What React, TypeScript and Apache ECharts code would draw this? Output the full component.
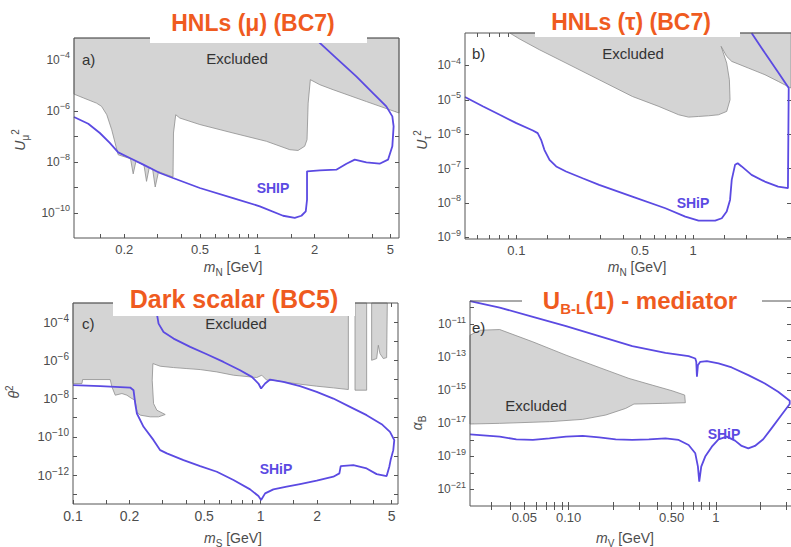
import React, { useEffect, useRef } from "react";
import * as echarts from "echarts";

type Pt = [number, number];

const FONT = '"Liberation Sans", Arial, Helvetica, sans-serif';
const PURPLE = "#5b4ae2";
const ORANGE = "#ef5b1f";
const GRAY_FILL = "#d4d4d4";
const GRAY_EDGE = "#8e8e8e";
const INK = "#4d4d4d";

// ---------- a) HNLs, muon mixing (BC7) ----------
const hnlMuExcluded: Pt[] = [
  [0.109, 7e-4], [0.109, 4.5e-6], [0.122, 3.2e-6], [0.143, 2.0e-6], [0.152, 1.5e-6],
  [0.162, 7.0e-7], [0.172, 1.8e-7], [0.181, 4.1e-8], [0.186, 1.9e-8], [0.21, 1.42e-8],
  [0.216, 1.29e-8], [0.223, 3.4e-9], [0.2305, 1.05e-8], [0.254, 7.5e-9], [0.262, 1.73e-9],
  [0.271, 6.1e-9], [0.282, 5.26e-9], [0.291, 1.04e-9], [0.303, 4.13e-9], [0.361, 2.56e-9],
  [0.363, 1.35e-7], [0.373, 7.0e-7], [0.392, 5.2e-7], [0.499, 2.9e-7], [0.746, 1.35e-7],
  [1.117, 6.4e-8], [1.482, 3.0e-8], [1.637, 2.8e-8], [1.775, 4.1e-8], [1.825, 7.4e-8],
  [1.85, 2.0e-6], [1.9, 1.65e-5], [2.13, 1.05e-5], [2.5, 6.7e-6], [3.74, 2.3e-6],
  [5.55, 8.2e-7], [5.55, 7e-4],
];
const hnlMuShip: Pt[] = [
  [0.109, 5.7e-7], [0.1295, 3.1e-7], [0.149, 1.35e-7], [0.168, 5.5e-8], [0.186, 2.36e-8],
  [0.214, 1.42e-8], [0.252, 7.8e-9], [0.308, 3.67e-9], [0.361, 2.34e-9], [0.499, 9.5e-10],
  [0.746, 3.85e-10], [1.031, 1.82e-10], [1.366, 7.8e-11], [1.573, 6.4e-11], [1.705, 7.8e-11],
  [1.797, 1.16e-10], [1.825, 3.3e-10], [1.825, 4.27e-9], [2.13, 4.67e-9], [2.6, 4.95e-9],
  [2.94, 8.5e-9], [3.25, 1.22e-8], [3.74, 9.6e-9], [4.39, 8.5e-9], [4.86, 1.22e-8],
  [5.12, 4.06e-8], [5.2, 2.46e-7], [5.12, 6.05e-7], [4.76, 1.49e-6], [4.05, 4.96e-6],
  [3.31, 2.23e-5], [2.6, 1.16e-4], [2.0, 7e-4],
];
const muMassTicks = [0.15, 0.2, 0.3, 0.4, 0.5, 0.6, 0.7, 0.8, 0.9, 1, 1.5, 2, 3, 4, 5];
const muMassLabels = [0.2, 0.5, 1, 2, 5];
const muMassText = ["0.2", "0.5", "1", "2", "5"];
const muMixTicks = [1e-4, 1e-5, 1e-6, 1e-7, 1e-8, 1e-9, 1e-10];
const muMixLabels = [1e-4, 1e-6, 1e-8, 1e-10];

// ---------- b) HNLs, tau mixing (BC7) ----------
const hnlTauExcluded: Pt[] = [
  [0.0917, 8.8e-4], [0.1044, 5.86e-4], [0.135, 2.86e-4], [0.191, 1.17e-4], [0.294, 3.83e-5],
  [0.453, 1.25e-5], [0.64, 6.4e-6], [0.829, 3.66e-6], [0.943, 3.13e-6], [1.074, 3.27e-6],
  [1.222, 3.42e-6], [1.391, 3.66e-6], [1.549, 4.58e-6], [1.618, 1.0e-5], [1.604, 3.83e-5],
  [1.549, 1.17e-4], [1.44, 3.59e-4], [1.549, 1.83e-4], [1.654, 1.31e-4], [2.05, 8.4e-5],
  [2.55, 5.36e-5], [3.03, 3.43e-5], [3.49, 2.34e-5], [3.6, 2.2e-5], [3.6, 8.8e-4],
];
const hnlTauShip: Pt[] = [
  [0.0512, 1.2e-5], [0.0649, 6.4e-6], [0.0805, 3.66e-6], [0.1, 2.09e-6], [0.124, 1.28e-6],
  [0.132, 1.07e-6], [0.138, 6.84e-7], [0.144, 3.5e-7], [0.154, 1.79e-7], [0.168, 1.15e-7],
  [0.191, 8.2e-8], [0.237, 5.22e-8], [0.294, 3.34e-8], [0.453, 1.53e-8], [0.697, 6.98e-9],
  [0.903, 3.99e-9], [1.074, 3.05e-9], [1.333, 3.05e-9], [1.453, 3.57e-9], [1.549, 5.59e-9],
  [1.618, 1.22e-8], [1.654, 4.68e-8], [1.727, 1.28e-7], [1.787, 1.43e-7], [1.883, 1.15e-7],
  [2.142, 6.53e-8], [2.545, 4.18e-8], [3.027, 2.99e-8], [3.44, 2.67e-8], [3.475, 2.19e-5],
  [3.027, 6.3e-5], [2.545, 2.34e-4], [2.142, 8.8e-4],
];
const tauMassTicks = [0.06, 0.07, 0.08, 0.09, 0.1, 0.15, 0.2, 0.3, 0.4, 0.5, 0.6, 0.7, 0.8, 0.9, 1, 1.5, 2, 3];
const tauMassLabels = [0.1, 0.5, 1];
const tauMassText = ["0.1", "0.5", "1"];
const tauMixTicks = [1e-4, 1e-5, 1e-6, 1e-7, 1e-8, 1e-9];
const tauMixLabels = [1e-4, 1e-5, 1e-6, 1e-7, 1e-8, 1e-9];

// ---------- c) Dark scalar (BC5) ----------
const scalarExcluded: Pt[] = [
  [0.1, 1e-3], [0.1, 6.1e-8], [0.1116, 6.1e-8], [0.1125, 9.86e-8], [0.1579, 9.86e-8],
  [0.1612, 4.09e-8], [0.168, 1.5e-8], [0.1823, 1.83e-8], [0.1938, 1.5e-8], [0.206, 1.0e-8],
  [0.2146, 8.2e-9], [0.2191, 2.03e-9], [0.2282, 1.36e-9], [0.2579, 1.11e-9], [0.2858, 1.11e-9],
  [0.3101, 1.47e-9], [0.2799, 2.47e-9], [0.2688, 5.5e-9], [0.2644, 9.1e-8], [0.2666, 6.73e-7],
  [0.2917, 4.89e-7], [0.3435, 4.17e-7], [0.4045, 3.69e-7], [0.4763, 3.27e-7], [0.5844, 2.47e-7],
  [0.7166, 1.66e-7], [0.8793, 1.36e-7], [0.9541, 1.25e-7], [1.0144, 1.66e-7], [1.0785, 9.1e-8],
  [1.17, 9.1e-8], [1.323, 7.45e-8], [1.623, 5.63e-8], [1.991, 4.43e-8], [2.442, 3.62e-8],
  [2.936, 2.96e-8], [2.936, 1e-3],
];
const scalarStripA: Pt[] = [[3.186, 1e-3], [3.186, 2.74e-8], [3.675, 2.74e-8], [3.675, 1e-3]];
const scalarStripB: Pt[] = [
  [3.907, 1e-3], [3.907, 1.0e-6], [4.155, 1.23e-6], [4.241, 6.09e-6], [4.328, 2.24e-6],
  [4.51, 1.23e-6], [4.698, 1.38e-6], [4.736, 1e-3],
];
const scalarShip: Pt[] = [
  [0.1, 4.99e-8], [0.1398, 4.43e-8], [0.2018, 3.77e-8], [0.2102, 2.74e-8], [0.2146, 5.5e-9],
  [0.2191, 1.66e-9], [0.2377, 3.34e-10], [0.2688, 6.73e-11], [0.2917, 2.02e-11], [0.3164, 1.36e-11],
  [0.3882, 6.1e-12], [0.4763, 2.96e-12], [0.5844, 1.5e-12], [0.7166, 5.52e-13], [0.8793, 1.8e-13],
  [0.9738, 8.08e-14], [1.006, 5.0e-14], [1.057, 1.11e-13], [1.17, 1.8e-13], [1.378, 2.48e-13],
  [1.623, 3.42e-13], [1.991, 5.1e-13], [2.442, 8.26e-13], [2.63, 1.23e-12], [2.673, 2.96e-12],
  [3.121, 3.34e-12], [3.675, 2.24e-12], [4.155, 1.13e-12], [4.698, 8.9e-13], [4.853, 2.74e-12],
  [4.932, 6.1e-12], [5.096, 2.02e-11], [5.159, 6.73e-11], [4.893, 1.83e-10], [4.419, 4.6e-10],
  [3.675, 1.36e-9], [2.996, 3.69e-9], [2.442, 1.0e-8], [1.991, 2.24e-8], [1.623, 4.43e-8],
  [1.323, 7.45e-8], [1.1236, 9.86e-8], [1.057, 6.1e-8], [1.006, 3.34e-8], [0.9738, 6.1e-8],
  [0.8976, 1.36e-7], [0.7776, 3.02e-7], [0.634, 8.2e-7], [0.5168, 2.07e-6], [0.4213, 4.99e-6],
  [0.3435, 1.36e-5], [0.3038, 3.02e-5], [0.2858, 8.2e-5], [0.2799, 2.73e-4], [0.2743, 1e-3],
];
const scalarMassTicks = [0.1, 0.15, 0.2, 0.3, 0.4, 0.5, 0.6, 0.7, 0.8, 0.9, 1, 1.5, 2, 3, 4, 5];
const scalarMassLabels = [0.1, 0.2, 0.5, 1, 2, 5];
const scalarMassText = ["0.1", "0.2", "0.5", "1", "2", "5"];
const scalarMixTicks = [1e-4, 1e-5, 1e-6, 1e-7, 1e-8, 1e-9, 1e-10, 1e-11, 1e-12, 1e-13];
const scalarMixLabels = [1e-4, 1e-6, 1e-8, 1e-10, 1e-12];

// ---------- e) U(1)_{B-L} mediator ----------
const bmlExcluded: Pt[] = [
  [0.0214, 2.14e-12], [0.02496, 4.28e-12], [0.03407, 4.7e-12], [0.05718, 8.47e-13],
  [0.09603, 1.33e-13], [0.1611, 2.39e-14], [0.2568, 5.19e-15], [0.369, 2.05e-15],
  [0.5035, 9.35e-16], [0.6131, 5.12e-16], [0.6195, 1.76e-16], [0.431, 1.61e-16],
  [0.2775, 1.47e-16], [0.2438, 8.0e-17], [0.1787, 3.18e-17], [0.1244, 1.74e-17],
  [0.07409, 1.26e-17], [0.03407, 9.97e-18], [0.0214, 9.1e-18],
];
const bmlShip: Pt[] = [
  [0.0214, 2.5e-10], [0.03407, 1.0e-10], [0.05718, 2.73e-11], [0.09603, 7.47e-12],
  [0.1611, 1.86e-12], [0.2704, 4.64e-13], [0.4539, 1.84e-13], [0.6521, 1.16e-13],
  [0.7236, 8.36e-14], [0.7349, 5.26e-14], [0.7425, 6.55e-15], [0.7541, 3.31e-14],
  [0.782, 5.26e-14], [0.8672, 5.77e-14], [1.04, 4.17e-14], [1.279, 2.39e-14],
  [1.657, 8.25e-15], [2.147, 2.59e-15], [2.641, 8.13e-16], [3.166, 2.33e-16],
  [3.166, 1.47e-16], [2.782, 3.18e-17], [2.381, 4.98e-18], [2.092, 1.08e-18],
  [1.838, 4.28e-19], [1.657, 3.09e-19], [1.494, 4.28e-19], [1.347, 8.98e-19],
  [1.183, 1.57e-18], [1.04, 1.08e-18], [0.9373, 3.9e-19], [0.845, 9.7e-20],
  [0.7943, 2.42e-20], [0.7699, 3.0e-21], [0.7541, 2.42e-20], [0.7236, 1.54e-19],
  [0.6521, 4.92e-19], [0.5584, 9.86e-19], [0.4539, 1.24e-18], [0.3503, 1.08e-18],
  [0.2704, 9.86e-19], [0.2087, 1.08e-18], [0.1611, 1.43e-18], [0.1244, 1.72e-18],
  [0.09603, 1.57e-18], [0.07409, 1.24e-18], [0.05718, 9.86e-19], [0.04414, 1.08e-18],
  [0.03407, 1.57e-18], [0.0263, 1.88e-18], [0.0214, 2.17e-18],
];
const bmlMassTicks = [0.03, 0.04, 0.05, 0.06, 0.07, 0.08, 0.09, 0.1, 0.2, 0.3, 0.4, 0.5, 0.6, 0.7, 0.8, 0.9, 1, 2, 3];
const bmlMassLabels = [0.05, 0.1, 0.5, 1];
const bmlMassText = ["0.05", "0.10", "0.50", "1"];
const bmlAlphaTicks = [1e-10, 1e-11, 1e-12, 1e-13, 1e-14, 1e-15, 1e-16, 1e-17, 1e-18, 1e-19, 1e-20, 1e-21];
const bmlAlphaLabels = [1e-11, 1e-13, 1e-15, 1e-17, 1e-19, 1e-21];

// ---------- helpers ----------
// "10" with a raised exponent, rendered through axisLabel rich styles
const powerLabel = (v: number) => {
  const e = Math.round(Math.log10(v));
  return "{b|10}{e|" + (e < 0 ? "\u2212" + String(-e) : String(e)) + "}";
};

const nearestText = (labels: number[], texts: string[]) => (v: number) => {
  let best = 0;
  for (let i = 1; i < labels.length; i++) {
    if (Math.abs(Math.log(labels[i] / v)) < Math.abs(Math.log(labels[best] / v))) best = i;
  }
  return texts[best];
};

interface Panel {
  rect: { left: number; top: number; width: number; height: number };
  x: [number, number];
  y: [number, number];
  xTicks: number[];
  xLabels: number[];
  xText: string[];
  yTicks: number[];
  yLabels: number[];
  xFont: number;
  yFont: number;
  regions: Pt[][];
  ship: Pt[];
}

const panels: Panel[] = [
  {
    rect: { left: 74, top: 38, width: 325, height: 200 },
    x: [0.109, 5.55], y: [1.05e-11, 7.06e-4],
    xTicks: muMassTicks, xLabels: muMassLabels, xText: muMassText,
    yTicks: muMixTicks, yLabels: muMixLabels, xFont: 13, yFont: 12,
    regions: [hnlMuExcluded], ship: hnlMuShip,
  },
  {
    rect: { left: 465, top: 33, width: 328, height: 206 },
    x: [0.0512, 3.58], y: [8.9e-10, 8.77e-4],
    xTicks: tauMassTicks, xLabels: tauMassLabels, xText: tauMassText,
    yTicks: tauMixTicks, yLabels: tauMixLabels, xFont: 13, yFont: 12,
    regions: [hnlTauExcluded], ship: hnlTauShip,
  },
  {
    rect: { left: 73, top: 303, width: 325, height: 201 },
    x: [0.1, 5.4], y: [3.1e-14, 9.84e-4],
    xTicks: scalarMassTicks, xLabels: scalarMassLabels, xText: scalarMassText,
    yTicks: scalarMixTicks, yLabels: scalarMixLabels, xFont: 14, yFont: 13,
    regions: [scalarExcluded, scalarStripA, scalarStripB], ship: scalarShip,
  },
  {
    rect: { left: 470, top: 301, width: 323, height: 205 },
    x: [0.0214, 3.23], y: [1e-22, 2.51e-10],
    xTicks: bmlMassTicks, xLabels: bmlMassLabels, xText: bmlMassText,
    yTicks: bmlAlphaTicks, yLabels: bmlAlphaLabels, xFont: 13, yFont: 12,
    regions: [bmlExcluded], ship: bmlShip,
  },
];

const clamp = (v: number, a: number, b: number) => Math.min(Math.max(v, a), b);

function regionSeries(idx: number, poly: Pt[]) {
  return {
    type: "custom",
    xAxisIndex: idx,
    yAxisIndex: idx,
    z: 1,
    silent: true,
    data: poly,
    encode: { x: 0, y: 1 },
    renderItem: (params: any, api: any) => {
      if (params.dataIndex !== 0) return null;
      const cs = params.coordSys;
      const points = poly.map((p) => {
        const c = api.coord(p);
        return [clamp(c[0], cs.x, cs.x + cs.width), clamp(c[1], cs.y, cs.y + cs.height)];
      });
      return {
        type: "polygon",
        shape: { points },
        style: { fill: GRAY_FILL, stroke: GRAY_EDGE, lineWidth: 0.8 },
      };
    },
  };
}

// rich-text styles for axis names (italic symbol with sub/superscript)
const nameRich = (size: number) => ({
  i: { fontStyle: "italic", fontSize: size, lineHeight: 20, fill: INK, fontFamily: FONT },
  n: { fontSize: size, lineHeight: 20, fill: INK, fontFamily: FONT },
  s: { fontSize: size - 4, verticalAlign: "bottom", fill: INK, fontFamily: FONT },
  p: { fontSize: size - 4, verticalAlign: "top", fill: INK, fontFamily: FONT },
});

function richText(x: number, y: number, text: string, size: number, rotate = false) {
  return {
    type: "text",
    x,
    y,
    rotation: rotate ? Math.PI / 2 : 0,
    z: 45,
    silent: true,
    style: { text, rich: nameRich(size), align: "center", verticalAlign: "middle", fill: INK, fontFamily: FONT },
  };
}

function plainText(x: number, y: number, text: string, size: number, color: string, bold = false, align = "center") {
  return {
    type: "text",
    x,
    y,
    z: 45,
    silent: true,
    style: {
      text, fill: color, fontSize: size, fontWeight: bold ? "bold" : "normal",
      fontFamily: FONT, align, verticalAlign: "middle",
    },
  };
}

function buildOption() {
  const n = panels.length;
  const grid = panels.map((p) => ({ ...p.rect, show: false, containLabel: false }));
  const tickStyle = { color: "#555" };

  const xAxis: any[] = panels.map((p, i) => ({
    type: "log",
    logBase: 10,
    gridIndex: i,
    min: p.x[0],
    max: p.x[1],
    axisLine: { show: false },
    axisTick: { show: true, inside: true, length: 4, customValues: p.xTicks, lineStyle: tickStyle },
    axisLabel: {
      customValues: p.xLabels,
      formatter: nearestText(p.xLabels, p.xText),
      color: INK,
      fontSize: p.xFont,
      fontFamily: FONT,
      margin: 5,
    },
    splitLine: { show: false },
    minorTick: { show: false },
  }));
  const yAxis: any[] = panels.map((p, i) => ({
    type: "log",
    logBase: 10,
    gridIndex: i,
    min: p.y[0],
    max: p.y[1],
    axisLine: { show: false },
    axisTick: { show: true, inside: true, length: 4, customValues: p.yTicks, lineStyle: tickStyle },
    axisLabel: {
      customValues: p.yLabels,
      formatter: powerLabel,
      margin: 4,
      rich: {
        b: { fontSize: p.yFont, color: INK, fontFamily: FONT, lineHeight: 18 },
        e: { fontSize: p.yFont - 3, color: INK, fontFamily: FONT, verticalAlign: "top" },
      },
    },
    splitLine: { show: false },
    minorTick: { show: false },
  }));
  // mirrored ticks on the top and right sides of each frame
  panels.forEach((p, i) => {
    xAxis.push({
      type: "log", logBase: 10, gridIndex: i, position: "top", min: p.x[0], max: p.x[1],
      axisLine: { show: false }, axisLabel: { show: false }, splitLine: { show: false },
      axisTick: { show: true, inside: true, length: 4, customValues: p.xTicks, lineStyle: tickStyle },
    });
    yAxis.push({
      type: "log", logBase: 10, gridIndex: i, position: "right", min: p.y[0], max: p.y[1],
      axisLine: { show: false }, axisLabel: { show: false }, splitLine: { show: false },
      axisTick: { show: true, inside: true, length: 4, customValues: p.yTicks, lineStyle: tickStyle },
    });
  });

  const series: any[] = [];
  panels.forEach((p, i) => {
    p.regions.forEach((r) => series.push(regionSeries(i, r)));
    series.push({
      type: "line",
      xAxisIndex: i,
      yAxisIndex: i,
      data: p.ship,
      showSymbol: false,
      symbol: "none",
      silent: true,
      z: 3,
      clip: true,
      lineStyle: { color: PURPLE, width: 1.8 },
    });
  });

  const frames = panels.map((p) => ({
    type: "rect",
    z: 50,
    silent: true,
    shape: { x: p.rect.left, y: p.rect.top, width: p.rect.width, height: p.rect.height },
    style: { fill: "none", stroke: "#555", lineWidth: 1 },
  }));

  const titleBoxes = [
    [150, 0, 217, 43],
    [535, 0, 205, 37],
    [113, 283, 242, 33],
    [522, 283, 240, 28],
  ].map(([x, y, w, h]) => ({
    type: "rect",
    z: 60,
    silent: true,
    shape: { x, y, width: w, height: h },
    style: { fill: "#ffffff" },
  }));

  const titleStyle = (size: number) => ({ fill: ORANGE, fontSize: size, fontWeight: "bold", fontFamily: FONT, align: "center", verticalAlign: "middle" });
  const titles = [
    { type: "text", x: 253, y: 23, z: 70, silent: true, style: { text: "HNLs (\u03BC) (BC7)", ...titleStyle(23) } },
    { type: "text", x: 631, y: 22, z: 70, silent: true, style: { text: "HNLs (\u03C4) (BC7)", ...titleStyle(23) } },
    { type: "text", x: 234, y: 299, z: 70, silent: true, style: { text: "Dark scalar (BC5)", ...titleStyle(25) } },
    {
      type: "text", x: 640, y: 300, z: 70, silent: true,
      style: {
        text: "{u|U}{s|B-L}{u|(1) - mediator}",
        ...titleStyle(24),
        rich: {
          u: { fill: ORANGE, fontSize: 24, fontWeight: "bold", fontFamily: FONT, lineHeight: 31 },
          s: { fill: ORANGE, fontSize: 15, fontWeight: "bold", fontFamily: FONT, verticalAlign: "bottom" },
        },
      },
    },
  ];

  const labels = [
    plainText(82, 59, "a)", 15, "#333", false, "left"),
    plainText(237, 58, "Excluded", 15, "#333"),
    plainText(273, 188, "SHIP", 14, PURPLE, true),
    plainText(472, 53, "b)", 15, "#333", false, "left"),
    plainText(633, 53, "Excluded", 15, "#333"),
    plainText(693, 203, "SHiP", 14, PURPLE, true),
    plainText(82, 323, "c)", 15, "#333", false, "left"),
    plainText(236, 323, "Excluded", 15, "#333"),
    plainText(276, 469, "SHiP", 14, PURPLE, true),
    plainText(472, 327, "e)", 15, "#333", false, "left"),
    plainText(536, 405, "Excluded", 15, "#333"),
    plainText(724, 434, "SHiP", 14, PURPLE, true),
  ];

  const names = [
    richText(233, 267, "{i|m}{s|N}{n| [GeV]}", 14),
    richText(20, 140, "{i|U}{s|\u03BC}{p|2}", 14, true),
    richText(637, 267, "{i|m}{s|N}{n| [GeV]}", 14),
    richText(422, 140, "{i|U}{s|\u03C4}{p|2}", 14, true),
    richText(233, 538, "{i|m}{s|S}{n| [GeV]}", 14),
    richText(14, 392, "{i|\u03B8}{p|2}", 14, true),
    richText(625, 538, "{i|m}{s|V}{n| [GeV]}", 14),
    richText(417, 423, "{i|\u03B1}{s|B}", 14, true),
  ];

  return {
    animation: false,
    backgroundColor: "#ffffff",
    textStyle: { fontFamily: FONT },
    grid,
    xAxis,
    yAxis,
    series,
    graphic: { elements: [...frames, ...labels, ...names, ...titleBoxes, ...titles] },
  };
}

export default function App() {
  const ref = useRef<HTMLDivElement>(null);
  useEffect(() => {
    if (!ref.current) return;
    const chart = echarts.init(ref.current, null, { renderer: "svg" });
    chart.setOption(buildOption() as any);
    return () => chart.dispose();
  }, []);
  return (
    <div
      ref={ref}
      style={{ position: "absolute", left: 0, top: 0, width: 791, height: 547, background: "#fff" }}
    />
  );
}
